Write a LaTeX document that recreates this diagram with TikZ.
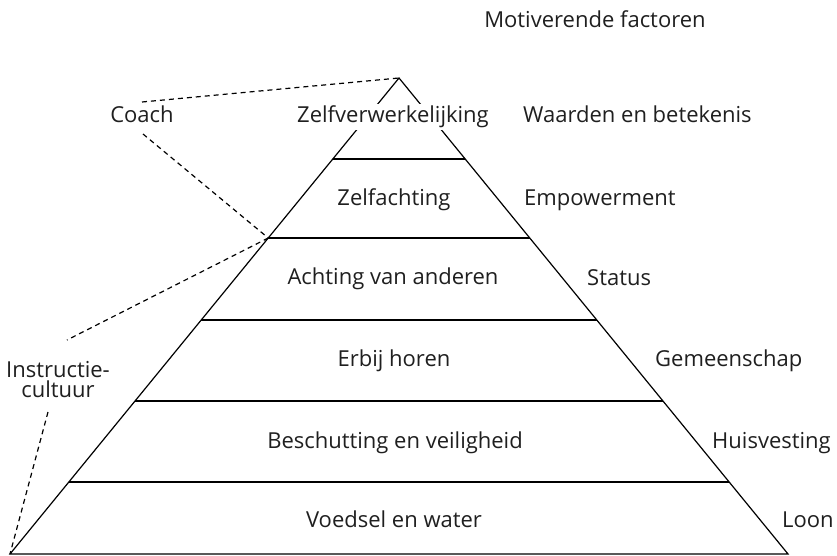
\documentclass[tikz,border=0pt]{standalone}
\usepackage{fontspec}
\setmainfont{Open Sans}
\begin{document}
\begin{tikzpicture}[x=1pt,y=-1pt,
  solidline/.style={line width=1.2pt,line join=miter},
  dashline/.style={line width=1.2pt,dash pattern=on 5pt off 4pt},
  lbl/.style={inner sep=0pt,font=\fontsize{22}{26}\selectfont,text=black!88},
  toplbl/.style={lbl,fill=white,inner xsep=2pt,inner ysep=2pt}]
\useasboundingbox (0,0) rectangle (837,556);
% pyramid corners
\coordinate (apex) at (399,78);
\coordinate (bl) at (10,554);
\coordinate (br) at (788,554);
\draw[solidline] (bl) -- (apex) -- (br) -- cycle;
% level lines
\foreach \yy/\nm in {159/a,238/b,320/c,401/d,482/e}{
  \pgfmathsetmacro{\dx}{(\yy-78)/476*389}
  \coordinate (L\nm) at ({399-\dx},\yy);
  \coordinate (R\nm) at ({399+\dx},\yy);
  \draw[solidline] (L\nm) -- (R\nm);
}
% labels inside pyramid
\node[toplbl,anchor=base] (t1) at (393,123) {Zelfverwerkelijking};
\node[lbl,anchor=base] (t2) at (394,205) {Zelfachting};
\node[lbl,anchor=base] (t3) at (393,284) {Achting van anderen};
\node[lbl,anchor=base] (t4) at (394,366) {Erbij horen};
\node[lbl,anchor=base] (t5) at (395,448) {Beschutting en veiligheid};
\node[lbl,anchor=base] (t6) at (394,527) {Voedsel en water};
% right labels
\node[lbl,anchor=base] (mf) at (595,28) {Motiverende factoren};
\node[lbl,anchor=base west] (r1) at (523,123) {Waarden en betekenis};
\node[lbl,anchor=base west] (r2) at (524,205) {Empowerment};
\node[lbl,anchor=base west] (r3) at (587,285) {Status};
\node[lbl,anchor=base west] (r4) at (655,366) {Gemeenschap};
\node[lbl,anchor=base west] (r5) at (712,448) {Huisvesting};
\node[lbl,anchor=base west] (r6) at (782,527) {Loon};
% left labels
\node[lbl,anchor=base] (coach) at (142,123) {Coach};
\node[lbl,anchor=base] (instr) at (58,377) {Instructie-};
\node[lbl,anchor=base] (instr2) at (58,397) {cultuur};
% dashed connectors
\coordinate (c1) at (142,102);
\coordinate (c2) at (143,134);
\coordinate (i1) at (67,340);
\coordinate (i2) at (48,412);
\draw[dashline] (c1) -- (apex);
\draw[dashline] (c2) -- (Lb);
\draw[dashline] (Lb) -- (i1);
\draw[dashline] (i2) -- (bl);
\end{tikzpicture}
\end{document}
